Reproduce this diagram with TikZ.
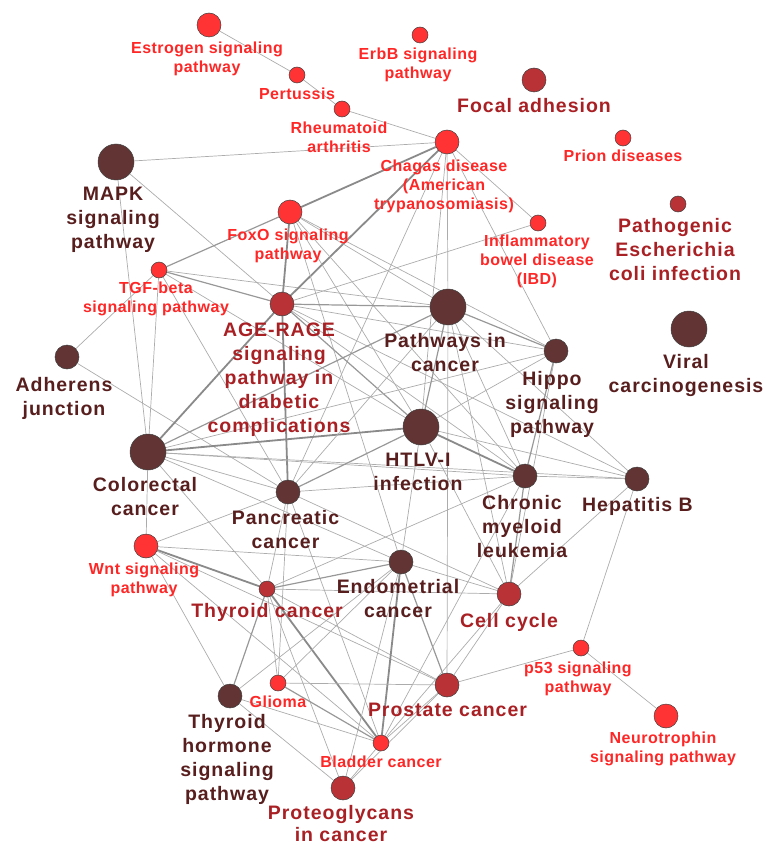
\documentclass[tikz,border=0pt]{standalone}
\usepackage{fontspec}
\newfontfamily\lblfont[LetterSpace=3]{Liberation Sans}
\newfontfamily\biglblfont[LetterSpace=5]{Liberation Sans}
\definecolor{nbright}{RGB}{255,51,51}
\definecolor{nmed}{RGB}{184,50,54}
\definecolor{ndark}{RGB}{98,52,52}
\definecolor{tbright}{RGB}{255,38,38}
\definecolor{tmed}{RGB}{168,32,36}
\definecolor{tdark}{RGB}{88,30,30}
\definecolor{egA}{RGB}{172,172,172}
\definecolor{egB}{RGB}{152,152,152}
\definecolor{egC}{RGB}{138,138,138}
\pgfdeclarelayer{edgelayer}
\pgfsetlayers{edgelayer,main}
\begin{document}
\begin{tikzpicture}[x=1pt,y=-1pt,
  gn/.style={circle,inner sep=0pt,draw=black!75,line width=0.5pt},
  br/.style={gn,fill=nbright},
  md/.style={gn,fill=nmed},
  dk/.style={gn,fill=ndark},
  sA/.style={minimum size=16pt},
  sB/.style={minimum size=24pt},
  sC/.style={minimum size=36pt},
  lab/.style={anchor=north,inner sep=0pt,align=center},
  ls/.style={lab,text=tbright,font=\lblfont\bfseries\fontsize{16}{18.7}\selectfont},
  lm/.style={lab,text=tmed,font=\biglblfont\bfseries\fontsize{19.5}{24}\selectfont},
  ld/.style={lab,text=tdark,font=\biglblfont\bfseries\fontsize{19.5}{24}\selectfont},
  ea/.style={draw=egA,line width=0.7pt},
  eb/.style={draw=egB,line width=1.2pt},
  ec/.style={draw=egC,line width=1.8pt}]
\useasboundingbox (0,0) rectangle (765,845);
% nodes
\node[br,sB] (estr) at (209,25) {};
\node[br,sA] (pert) at (297,75) {};
\node[br,sA] (rheu) at (342,109) {};
\node[br,sA] (erbb) at (420,35) {};
\node[md,sB] (focal) at (534,80) {};
\node[br,sB] (chag) at (447,142) {};
\node[br,sA] (prion) at (623,138) {};
\node[br,sA] (ibd) at (538,223) {};
\node[md,sA] (ecoli) at (678,204) {};
\node[dk,sC] (mapk) at (116,162) {};
\node[br,sB] (foxo) at (290,212) {};
\node[br,sA] (tgf) at (159,270) {};
\node[md,sB] (age) at (282,304) {};
\node[dk,sC] (pic) at (448,307) {};
\node[dk,sB] (hippo) at (556,351) {};
\node[dk,sC] (viral) at (689,329) {};
\node[dk,sB] (adh) at (67,357) {};
\node[dk,sC] (crc) at (148,452) {};
\node[dk,sC] (htlv) at (421,427) {};
\node[dk,sB] (panc) at (288,492) {};
\node[dk,sB] (cml) at (525,476) {};
\node[dk,sB] (hepb) at (637,479) {};
\node[br,sB] (wnt) at (146,546) {};
\node[md,sA] (thyc) at (267,589) {};
\node[dk,sB] (endo) at (401,562) {};
\node[md,sB] (cellc) at (509,594) {};
\node[br,sA] (p53) at (581,648) {};
\node[br,sA] (glioma) at (278,683) {};
\node[md,sB] (pros) at (447,685) {};
\node[dk,sB] (thh) at (230,696) {};
\node[br,sA] (blad) at (381,743) {};
\node[br,sB] (neur) at (666,716) {};
\node[md,sB] (prot) at (343,788) {};
% edges
\begin{pgfonlayer}{edgelayer}
\draw[ea] (estr) -- (pert);
\draw[ea] (pert) -- (rheu);
\draw[ea] (rheu) -- (chag);
\draw[ea] (mapk) -- (chag);
\draw[ea] (mapk) -- (age);
\draw[ea] (mapk) -- (crc);
\draw[eb] (tgf) -- (foxo);
\draw[ec] (foxo) -- (chag);
\draw[eb] (tgf) -- (age);
\draw[ea] (tgf) -- (pic);
\draw[ea] (tgf) -- (panc);
\draw[ea] (tgf) -- (crc);
\draw[ea] (tgf) -- (adh);
\draw[ea] (tgf) -- (htlv);
\draw[ea] (adh) -- (panc);
\draw[ec] (chag) -- (age);
\draw[ec] (crc) -- (age);
\draw[ea] (chag) -- (pic);
\draw[ea] (chag) -- (htlv);
\draw[ea] (chag) -- (panc);
\draw[ea] (chag) -- (hippo);
\draw[ea] (chag) -- (ibd);
\draw[ea] (ibd) -- (age);
\draw[ec] (foxo) -- (age);
\draw[ec] (age) -- (panc);
\draw[ea] (foxo) -- (pic);
\draw[ea] (foxo) -- (hippo);
\draw[ea] (foxo) -- (htlv);
\draw[ea] (foxo) -- (cml);
\draw[ea] (foxo) -- (endo);
\draw[eb] (age) -- (pic);
\draw[ea] (age) -- (hippo);
\draw[eb] (age) -- (htlv);
\draw[ea] (age) -- (cml);
\draw[ea] (age) -- (hepb);
\draw[eb] (crc) -- (pic);
\draw[ec] (crc) -- (htlv);
\draw[ea] (crc) -- (hippo);
\draw[ea] (crc) -- (cml);
\draw[ea] (crc) -- (hepb);
\draw[ea] (crc) -- (panc);
\draw[ea] (crc) -- (endo);
\draw[ea] (crc) -- (thyc);
\draw[ea] (crc) -- (wnt);
\draw[eb] (pic) -- (hippo);
\draw[eb] (pic) -- (htlv);
\draw[ea] (pic) -- (cml);
\draw[ea] (pic) -- (hepb);
\draw[ea] (pic) -- (cellc);
\draw[ea] (pic) -- (pros);
\draw[ea] (pic) -- (panc);
\draw[ea] (htlv) -- (hippo);
\draw[ec] (htlv) -- (cml);
\draw[ea] (htlv) -- (hepb);
\draw[eb] (htlv) -- (panc);
\draw[ea] (htlv) -- (endo);
\draw[ea] (htlv) -- (cellc);
\draw[eb] (hippo) -- (cml);
\draw[ea] (hippo) -- (cellc);
\draw[ea] (cml) -- (hepb);
\draw[eb] (cml) -- (cellc);
\draw[ea] (cml) -- (panc);
\draw[ea] (hepb) -- (cellc);
\draw[ea] (hepb) -- (p53);
\draw[ea] (panc) -- (wnt);
\draw[ea] (panc) -- (glioma);
\draw[ea] (panc) -- (blad);
\draw[ea] (panc) -- (cellc);
\draw[ea] (panc) -- (thyc);
\draw[ea] (wnt) -- (endo);
\draw[ec] (wnt) -- (thyc);
\draw[ea] (wnt) -- (thh);
\draw[ea] (wnt) -- (pros);
\draw[ea] (wnt) -- (blad);
\draw[eb] (thyc) -- (endo);
\draw[ea] (thyc) -- (cellc);
\draw[eb] (thyc) -- (thh);
\draw[ea] (thyc) -- (glioma);
\draw[ec] (thyc) -- (blad);
\draw[ea] (thyc) -- (pros);
\draw[ea] (thyc) -- (prot);
\draw[ea] (thyc) -- (cml);
\draw[ea] (endo) -- (glioma);
\draw[ea] (endo) -- (thh);
\draw[ec] (endo) -- (blad);
\draw[ea] (endo) -- (prot);
\draw[eb] (endo) -- (pros);
\draw[ea] (endo) -- (cellc);
\draw[ea] (cellc) -- (pros);
\draw[ea] (cellc) -- (blad);
\draw[ea] (pros) -- (glioma);
\draw[ea] (pros) -- (blad);
\draw[ea] (pros) -- (p53);
\draw[eb] (glioma) -- (blad);
\draw[ea] (thh) -- (blad);
\draw[ea] (thh) -- (prot);
\draw[ea] (blad) -- (prot);
\draw[ea] (blad) -- (cml);
\draw[ea] (pros) -- (prot);
\draw[ea] (p53) -- (neur);
\end{pgfonlayer}
% labels
\node[ls] (estrL) at (207,42) {Estrogen signaling\\pathway};
\node[ls] (pertL) at (297,88) {Pertussis};
\node[ls] (rheuL) at (339,122) {Rheumatoid\\arthritis};
\node[ls] (erbbL) at (418,48) {ErbB signaling\\pathway};
\node[lm] (focalL) at (534,98) {Focal adhesion};
\node[ls] (chagL) at (444,160) {Chagas disease\\(American\\trypanosomiasis)};
\node[ls] (prionL) at (623,150) {Prion diseases};
\node[ls] (ibdL) at (537,235) {Inflammatory\\bowel disease\\(IBD)};
\node[lm] (ecoliL) at (675,218) {Pathogenic\\Escherichia\\coli infection};
\node[ld] (mapkL) at (113,187) {MAPK\\signaling\\pathway};
\node[ls] (foxoL) at (288,229) {FoxO signaling\\pathway};
\node[ls] (tgfL) at (156,282) {TGF-beta\\signaling pathway};
\node[lm] (ageL) at (279,323) {AGE-RAGE\\signaling\\pathway in\\diabetic\\complications};
\node[ld] (picL) at (445,333) {Pathways in\\cancer};
\node[ld] (hippoL) at (552,371) {Hippo\\signaling\\pathway};
\node[ld] (viralL) at (686,354) {Viral\\carcinogenesis};
\node[ld] (adhL) at (64,377) {Adherens\\junction};
\node[ld] (crcL) at (145,477) {Colorectal\\cancer};
\node[ld] (htlvL) at (418,453) {HTLV-I\\infection};
\node[ld] (pancL) at (285.5,510) {Pancreatic\\cancer};
\node[ld] (cmlL) at (522,495) {Chronic\\myeloid\\leukemia};
\node[ld] (hepbL) at (637.5,497) {Hepatitis B};
\node[ls] (wntL) at (144,563) {Wnt signaling\\pathway};
\node[lm] (thycL) at (267,603) {Thyroid cancer};
\node[ld] (endoL) at (398,579) {Endometrial\\cancer};
\node[lm] (cellcL) at (509,613) {Cell cycle};
\node[ls] (p53L) at (578,662) {p53 signaling\\pathway};
\node[ls] (gliomaL) at (278,696) {Glioma};
\node[lm] (prosL) at (447.5,703) {Prostate cancer};
\node[ld] (thhL) at (227,714) {Thyroid\\hormone\\signaling\\pathway};
\node[ls] (bladL) at (381,756) {Bladder cancer};
\node[ls] (neurL) at (663,732) {Neurotrophin\\signaling pathway};
\node[lm,font=\biglblfont\bfseries\fontsize{19.5}{22}\selectfont] (protL) at (341,805) {Proteoglycans\\in cancer};
\end{tikzpicture}
\end{document}
